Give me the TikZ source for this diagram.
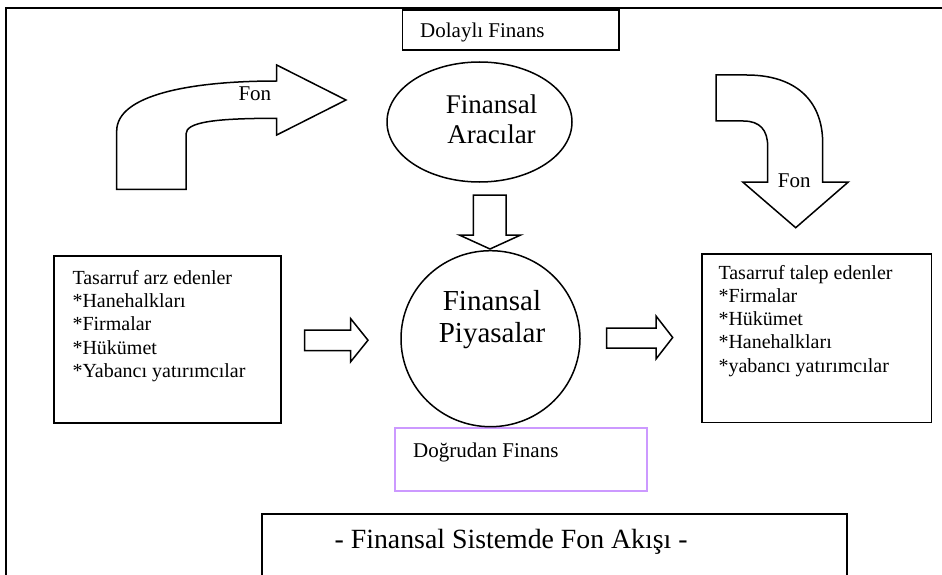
\documentclass[tikz,border=0pt]{standalone}
\usepackage{fontspec}
\setmainfont{Liberation Serif}
\usetikzlibrary{shapes.geometric}
\definecolor{lilac}{RGB}{204,153,255}
\tikzset{
  ln/.style={line width=1.5pt, line join=miter},
  boxn/.style={ln, draw, rectangle, inner sep=0pt},
  ovaln/.style={ln, draw, ellipse, inner sep=0pt},
  blockarrow/.style={ln, draw, fill=white},
  boxtxt/.style={anchor=base west, inner sep=0pt, font=\fontsize{20}{23.3}\selectfont},
  lbl/.style={anchor=base west, inner sep=0pt, font=\fontsize{21}{24}\selectfont},
  bigtxt/.style={anchor=base, inner sep=0pt},
}
\begin{document}
\begin{tikzpicture}[x=1pt,y=-1pt]
\useasboundingbox (0,0) rectangle (942,575);
% outer frame (cropped)
\draw[ln] (942,8) -- (6,8) -- (6,575);
% title box (cropped at bottom)
\draw[ln] (262,575) -- (262,514) -- (847,514) -- (847,575);
\node[anchor=base west, inner sep=0pt, font=\fontsize{27.8}{30}\selectfont] (title) at (334.5,548) {- Finansal Sistemde Fon Akışı -};

% Dolayli Finans box
\node[boxn, minimum width=216.3pt, minimum height=40pt] (dolayli) at (510.85,30) {};
\node[lbl] (dolaylitxt) at (420,38) {Dolaylı Finans};

% Dogrudan Finans box
\node[boxn, draw=lilac, minimum width=252pt, minimum height=63pt] (dogrudan) at (521,459.5) {};
\node[lbl] (dogrudantxt) at (413,457) {Doğrudan Finans};

% Finansal Aracilar ellipse
\node[ovaln, minimum width=185pt, minimum height=120pt] (aracilar) at (479.5,122) {};
\node[bigtxt, font=\fontsize{27}{30}\selectfont] (ar1) at (491.5,113.3) {Finansal};
\node[bigtxt, font=\fontsize{27}{30}\selectfont] (ar2) at (491.5,143.3) {Aracılar};

% Finansal Piyasalar circle
\node[ovaln, minimum width=179pt, minimum height=176pt] (piyasalar) at (490.5,338.7) {};
\node[bigtxt, font=\fontsize{29}{32}\selectfont] (pi1) at (492,310.7) {Finansal};
\node[bigtxt, font=\fontsize{29}{32}\selectfont] (pi2) at (492,342.7) {Piyasalar};

% left box
\node[boxn, minimum width=227pt, minimum height=167pt] (arz) at (167.5,339.5) {};
\node[boxtxt] (arztxt) at (72.3,284.3) {\vtop{\hbox{Tasarruf arz edenler}\hbox{*Hanehalkları}\hbox{*Firmalar}\hbox{*Hükümet}\hbox{*Yabancı yatırımcılar}}};

% right box
\node[boxn, minimum width=229.5pt, minimum height=168.7pt] (talep) at (816.75,338.35) {};
\node[boxtxt] (taleptxt) at (718.3,279) {\vtop{\hbox{Tasarruf talep edenler}\hbox{*Firmalar}\hbox{*Hükümet}\hbox{*Hanehalkları}\hbox{*yabancı yatırımcılar}}};

% straight block arrows
\draw[blockarrow] (304.7,330) -- (350.7,330) -- (350.7,318.7) -- (368,340.2) -- (350.7,361.7) -- (350.7,350.7) -- (304.7,350.7) -- cycle;
\draw[blockarrow] (606.7,328) -- (656,328) -- (656,316) -- (672.7,337.5) -- (656,359) -- (656,348) -- (606.7,348) -- cycle;
\draw[blockarrow] (473.3,195) -- (506,195) -- (506,235) -- (520.7,235) -- (490,249) -- (459.3,235) -- (473.3,235) -- cycle;

% curved block arrow (left, up and right)
\draw[blockarrow] (116.7,189.3) -- (116.7,131) .. controls (116.7,95) and (190,81) .. (276.7,81) -- (276.7,65) -- (346,100) -- (276.7,135) -- (276.7,118.3) .. controls (215,118.3) and (186,122) .. (186,134) -- (186,189.3) -- cycle;
\node[lbl] (fon1) at (238.3,100.7) {Fon};

% curved block arrow (right, right and down)
\draw[blockarrow] (716,75) -- (746.7,75) .. controls (795,75) and (822.7,100) .. (822.7,143.3) -- (822.7,182) -- (848.3,182) -- (795.7,227.7) -- (742.7,182) -- (767.7,182) -- (767.7,146.7) .. controls (767.7,130) and (760,121) .. (743.3,121) -- (716,121) -- cycle;
\node[lbl] (fon2) at (777.7,187.7) {Fon};
\end{tikzpicture}
\end{document}
